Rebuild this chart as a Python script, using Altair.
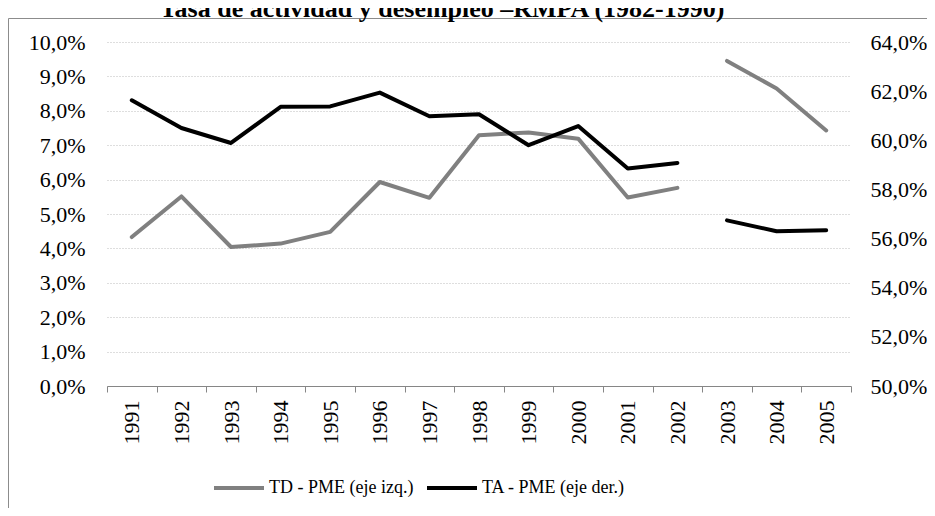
import altair as alt
import pandas as pd

# ---- data ----
years = list(range(1991, 2006))
tramo = ["1991-2002"] * 12 + ["2003-2005"] * 3
td_pme = [4.33, 5.51, 4.04, 4.14, 4.48, 5.93, 5.47, 7.29, 7.37, 7.19, 5.48, 5.76, 9.45, 8.65, 7.43]
ta_pme = [61.63, 60.50, 59.89, 61.36, 61.38, 61.94, 60.98, 61.06, 59.80, 60.58, 58.85, 59.08, 56.74, 56.30, 56.34]
left_ticks = [0, 1, 2, 3, 4, 5, 6, 7, 8, 9, 10]
right_ticks = [50, 52, 54, 56, 58, 60, 62, 64]
series_names = ["TD - PME (eje izq.)", "TA - PME (eje der.)"]
series_colors = ["#808080", "#000000"]
title_text = "Tasa de actividad y desempleo \u2013RMPA (1982-1990)"

FONT = "Liberation Serif"

df = pd.DataFrame({
    "year": years * 2,
    "tramo": tramo * 2,
    "value": td_pme + ta_pme,
    "series": [series_names[0]] * len(years) + [series_names[1]] * len(years),
})

x_values = sorted([y - 0.5 for y in years] + [years[-1] + 0.5] + years)

x_enc = alt.X(
    "year:Q",
    scale=alt.Scale(domain=[years[0] - 0.5, years[-1] + 0.5], nice=False, zero=False),
    axis=alt.Axis(
        title=None,
        values=x_values,
        labelExpr="datum.value % 1 == 0 ? format(datum.value, 'd') : ''",
        labelAngle=270,
        labelFont=FONT,
        labelFontSize=22,
        labelColor="black",
        labelPadding=8,
        labelFlush=False,
        labelOverlap=False,
        tickSize=6,
        tickColor="#868686",
        tickOpacity={"condition": {"test": "datum.value % 1 != 0", "value": 1}, "value": 0},
        domainColor="#868686",
        grid=False,
    ),
)

color_enc = alt.Color(
    "series:N",
    scale=alt.Scale(domain=series_names, range=series_colors),
    legend=alt.Legend(
        title=None,
        orient="none",
        legendX=105,
        legendY=419,
        direction="horizontal",
        symbolType="stroke",
        symbolSize=2500,
        symbolStrokeWidth=4,
        labelFont=FONT,
        labelFontSize=18,
        labelColor="black",
        labelOffset=3,
        columnPadding=5,
    ),
)

td_layer = alt.Chart(df).transform_filter(
    alt.datum.series == series_names[0]
).mark_line(strokeWidth=4, strokeCap="round", strokeJoin="round").encode(
    x=x_enc,
    y=alt.Y(
        "value:Q",
        scale=alt.Scale(domain=[0, 10], nice=False, zero=False),
        axis=alt.Axis(
            title=None,
            orient="left",
            values=left_ticks,
            labelExpr="replace(format(datum.value, '.1f'), '.', ',') + '%'",
            labelFont=FONT,
            labelFontSize=22,
            labelColor="black",
            labelPadding=22,
            ticks=False,
            domain=False,
            grid=True,
            gridColor="#bcbcbc",
            gridDash=[1, 2],
            gridWidth=1,
        ),
    ),
    color=color_enc,
    detail="tramo:N",
)

ta_layer = alt.Chart(df).transform_filter(
    alt.datum.series == series_names[1]
).mark_line(strokeWidth=4, strokeCap="round", strokeJoin="round").encode(
    x=x_enc,
    y=alt.Y(
        "value:Q",
        scale=alt.Scale(domain=[50, 64], nice=False, zero=False),
        axis=alt.Axis(
            title=None,
            orient="right",
            values=right_ticks,
            labelExpr="replace(format(datum.value, '.1f'), '.', ',') + '%'",
            labelFont=FONT,
            labelFontSize=22,
            labelColor="black",
            labelPadding=19,
            ticks=False,
            domain=False,
            grid=False,
        ),
    ),
    color=color_enc,
    detail="tramo:N",
)

frame = alt.Chart(pd.DataFrame({"f": [0]})).mark_rect(
    fillOpacity=0, stroke="#8c8c8c", strokeWidth=1
).encode(
    x=alt.value(-98.5), x2=alt.value(1000),
    y=alt.value(-23.5), y2=alt.value(1000),
)

title = alt.Chart(pd.DataFrame({"t": [title_text]})).mark_text(
    font=FONT, fontSize=26, fontWeight="bold", align="center", baseline="alphabetic", color="black"
).encode(
    text="t:N",
    x=alt.value(335),
    y=alt.value(-25),
)

chart = alt.layer(frame, title, td_layer, ta_layer).resolve_scale(
    y="independent"
).properties(
    width=744,
    height=344,
    autosize=alt.AutoSizeParams(type="none"),
    padding={"left": 99, "top": 34, "right": 76, "bottom": 122},
    background="white",
).configure_view(stroke=None)

chart.save("out.html", embed_options={"renderer": "svg", "actions": False})
